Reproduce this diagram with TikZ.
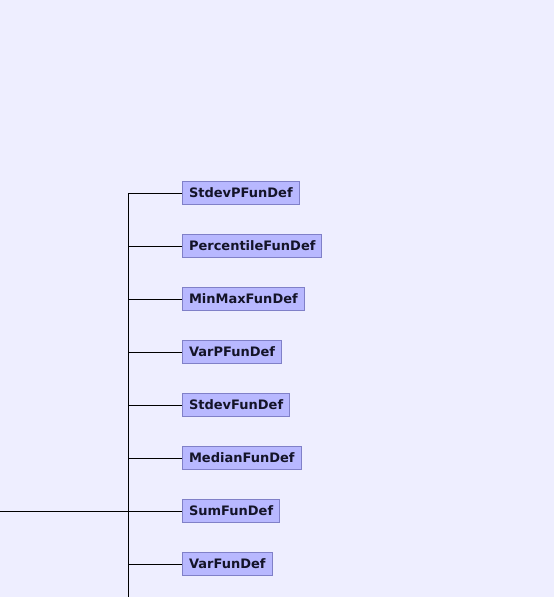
\documentclass[tikz,border=0pt]{standalone}
\usepackage{fontspec}
\setmainfont{DejaVu Sans}
\definecolor{bgc}{RGB}{238,238,255}
\definecolor{boxfill}{RGB}{184,184,255}
\definecolor{boxline}{RGB}{128,128,200}
\definecolor{txt}{RGB}{20,20,40}
\begin{document}
\begin{tikzpicture}[x=1pt,y=-1pt,
  fn/.style={draw=boxline, fill=boxfill, anchor=west, minimum height=23pt,
    inner xsep=6.5pt, inner ysep=0pt, text=txt,
    font=\fontsize{13}{15}\selectfont\bfseries, line width=1pt},
  conn/.style={draw=black, line width=0.9pt}]
\fill[bgc] (0,0) rectangle (554,597);
\useasboundingbox (0,0) rectangle (554,597);
\coordinate (top) at (128,193);
\coordinate (bot) at (128,597);
\coordinate (left) at (0,511);
\node[fn] (n1) at (182,193) {StdevPFunDef};
\node[fn] (n2) at (182,246) {PercentileFunDef};
\node[fn] (n3) at (182,299) {MinMaxFunDef};
\node[fn] (n4) at (182,352) {VarPFunDef};
\node[fn] (n5) at (182,405) {StdevFunDef};
\node[fn] (n6) at (182,458) {MedianFunDef};
\node[fn] (n7) at (182,511) {SumFunDef};
\node[fn] (n8) at (182,564) {VarFunDef};
\draw[conn] (top) -- (bot);
\draw[conn] (left) -- (n7.west);
\foreach \i in {1,...,8} {
  \draw[conn] (n\i.west -| top) -- (n\i.west);
}
\end{tikzpicture}
\end{document}
